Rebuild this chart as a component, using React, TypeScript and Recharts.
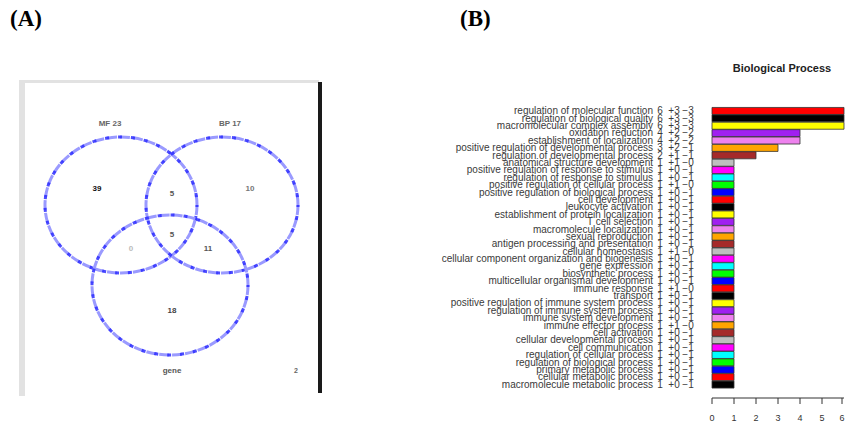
import React from "react";
import { BarChart, Bar, XAxis, YAxis, Cell, ScatterChart, Scatter } from "recharts";

const processNames = [
  "regulation of molecular function",
  "regulation of biological quality",
  "macromolecular complex assembly",
  "oxidation reduction",
  "establishment of localization",
  "positive regulation of developmental process",
  "regulation of developmental process",
  "anatomical structure development",
  "positive regulation of response to stimulus",
  "regulation of response to stimulus",
  "positive regulation of cellular process",
  "positive regulation of biological process",
  "cell development",
  "leukocyte activation",
  "establishment of protein localization",
  "T cell selection",
  "macromolecule localization",
  "sexual reproduction",
  "antigen processing and presentation",
  "cellular homeostasis",
  "cellular component organization and biogenesis",
  "gene expression",
  "biosynthetic process",
  "multicellular organismal development",
  "immune response",
  "transport",
  "positive regulation of immune system process",
  "regulation of immune system process",
  "immune system development",
  "immune effector process",
  "cell activation",
  "cellular developmental process",
  "cell communication",
  "regulation of cellular process",
  "regulation of biological process",
  "primary metabolic process",
  "cellular metabolic process",
  "macromolecule metabolic process",
];
const totalCounts = [6, 6, 6, 4, 4, 3, 2, 1, 1, 1, 1, 1, 1, 1, 1, 1, 1, 1, 1, 1, 1, 1, 1, 1, 1, 1, 1, 1, 1, 1, 1, 1, 1, 1, 1, 1, 1, 1];
const upCounts = [3, 3, 3, 2, 2, 2, 1, 1, 0, 0, 1, 0, 0, 0, 0, 0, 0, 0, 0, 1, 0, 0, 0, 0, 1, 0, 0, 0, 0, 1, 0, 0, 0, 0, 0, 0, 0, 0];
const downCounts = [3, 3, 3, 2, 2, 1, 1, 0, 1, 1, 0, 1, 1, 1, 1, 1, 1, 1, 1, 0, 1, 1, 1, 1, 0, 1, 1, 1, 1, 0, 1, 1, 1, 1, 1, 1, 1, 1];
const xTicks = [0, 1, 2, 3, 4, 5, 6];

const palette = ["#FF0000", "#000000", "#FFFF00", "#A020F0", "#EE82EE", "#FFA500", "#A52A2A", "#BEBEBE", "#FF00FF", "#00FFFF", "#00FF00", "#0000FF"];

// Venn diagram (panel A)
const vennCircles = [
  { x: 101, y: 125, rx: 76, ry: 68 },
  { x: 202, y: 125, rx: 76, ry: 68 },
  { x: 150, y: 205, rx: 78, ry: 70 },
];
const vennLabels = [
  { x: 90, y: 43, text: "MF 23", size: 8, color: "#666" },
  { x: 210, y: 43, text: "BP 17", size: 8, color: "#666" },
  { x: 152, y: 290, text: "gene", size: 8, color: "#555" },
  { x: 276, y: 290, text: "2", size: 7, color: "#666" },
  { x: 77, y: 108, text: "39", size: 8, color: "#111" },
  { x: 152, y: 113, text: "5", size: 8, color: "#555" },
  { x: 230, y: 108, text: "10", size: 8, color: "#777" },
  { x: 152, y: 154, text: "5", size: 8, color: "#555" },
  { x: 111, y: 168, text: "0", size: 8, color: "#bbb" },
  { x: 188, y: 168, text: "11", size: 8, color: "#555" },
  { x: 152, y: 230, text: "18", size: 8, color: "#444" },
];

const barData = processNames.map((name, i) => ({
  name,
  total: totalCounts[i],
  up: upCounts[i],
  down: downCounts[i],
}));

const FONT = "'Liberation Sans', Arial, Helvetica, sans-serif";

const YTick = (props: any) => {
  const { x, y, payload } = props;
  const i = processNames.indexOf(payload.value);
  const common = { fontFamily: FONT, fontSize: 10, fill: "#3a3a3a" } as any;
  return (
    <g>
      <text x={x - 59} y={y} dy={3.5} textAnchor="end" {...common}>{payload.value}</text>
      <text x={x - 52} y={y} dy={3.5} textAnchor="middle" {...common}>{totalCounts[i]}</text>
      <text x={x - 38} y={y} dy={3.5} textAnchor="middle" {...common}>{"+" + upCounts[i]}</text>
      <text x={x - 24} y={y} dy={3.5} textAnchor="middle" {...common}>{"\u2212" + downCounts[i]}</text>
    </g>
  );
};

const XTick = (props: any) => {
  const { x, y, payload } = props;
  const v = payload.value;
  return (
    <g>
      {v === 0 ? <line x1={x} x2={x + 132} y1={y + 10} y2={y + 10} stroke="#333" strokeWidth={1} /> : null}
      <line x1={x} x2={x} y1={y + 10} y2={y + 16} stroke="#333" strokeWidth={1} />
      <text x={x} y={y + 33} textAnchor="middle" fontFamily={FONT} fontSize={9} fill="#333">{v}</text>
    </g>
  );
};

const EllipseShape = (props: any) => {
  const { cx, cy, payload } = props;
  return (
    <g>
      <ellipse cx={cx} cy={cy} rx={payload.rx} ry={payload.ry} fill="none" stroke="#9a9aff" strokeWidth={3} strokeDasharray="10 3" />
      <ellipse cx={cx} cy={cy} rx={payload.rx} ry={payload.ry} fill="none" stroke="#2b2bff" strokeWidth={3} strokeDasharray="4 9" strokeDashoffset={2} strokeOpacity={0.85} />
    </g>
  );
};

const LabelShape = (props: any) => {
  const { cx, cy, payload } = props;
  return (
    <text x={cx} y={cy} dy={3} textAnchor="middle" fontFamily={FONT} fontSize={payload.size} fontWeight="bold" fill={payload.color}>{payload.text}</text>
  );
};

export default function App() {
  return (
    <div style={{ position: "absolute", left: 0, top: 0, width: 846, height: 425, background: "#fff", overflow: "hidden" }}>
      <div style={{ position: "absolute", left: 10, top: 6, fontFamily: "'Liberation Serif', 'Times New Roman', serif", fontWeight: "bold", fontSize: 23 }}>(A)</div>
      <div style={{ position: "absolute", left: 460, top: 6, fontFamily: "'Liberation Serif', 'Times New Roman', serif", fontWeight: "bold", fontSize: 23 }}>(B)</div>

      {/* Venn panel frame */}
      <div style={{ position: "absolute", left: 19, top: 80, width: 300, height: 3, background: "#e2e2e2" }} />
      <div style={{ position: "absolute", left: 19, top: 80, width: 6, height: 316, background: "#e2e2e2" }} />
      <div style={{ position: "absolute", left: 318, top: 82, width: 4, height: 311, background: "#1a1a1a" }} />

      <div style={{ position: "absolute", left: 20, top: 80 }}>
        <ScatterChart width={298} height={315} margin={{ top: 0, right: 0, bottom: 0, left: 0 }}>
          <XAxis type="number" dataKey="x" domain={[0, 298]} hide />
          <YAxis type="number" dataKey="y" domain={[0, 315]} reversed hide />
          <Scatter data={vennCircles} shape={<EllipseShape />} isAnimationActive={false} />
          <Scatter data={vennLabels} shape={<LabelShape />} isAnimationActive={false} />
        </ScatterChart>
      </div>

      <div style={{ position: "absolute", left: 732, top: 62, width: 100, textAlign: "center", fontFamily: FONT, fontWeight: "bold", fontSize: 11, color: "#222", whiteSpace: "nowrap" }}>Biological Process</div>

      <div style={{ position: "absolute", left: 440, top: 60 }}>
        <BarChart width={406} height={365} data={barData} layout="vertical" margin={{ top: 47, right: 2, bottom: 0, left: 0 }} barCategoryGap="6%">
          <XAxis type="number" domain={[0, 6]} ticks={xTicks} axisLine={false} tickLine={false} tickSize={0} tickMargin={0} height={37} tick={<XTick />} />
          <YAxis type="category" dataKey="name" width={272} interval={0} axisLine={false} tickLine={false} tickSize={0} tickMargin={0} tick={<YTick />} />
          <Bar dataKey="total" stroke="#333" strokeWidth={0.8} isAnimationActive={false}>
            {barData.map((d, i) => (
              <Cell key={d.name} fill={palette[i % palette.length]} />
            ))}
          </Bar>
        </BarChart>
      </div>
    </div>
  );
}
